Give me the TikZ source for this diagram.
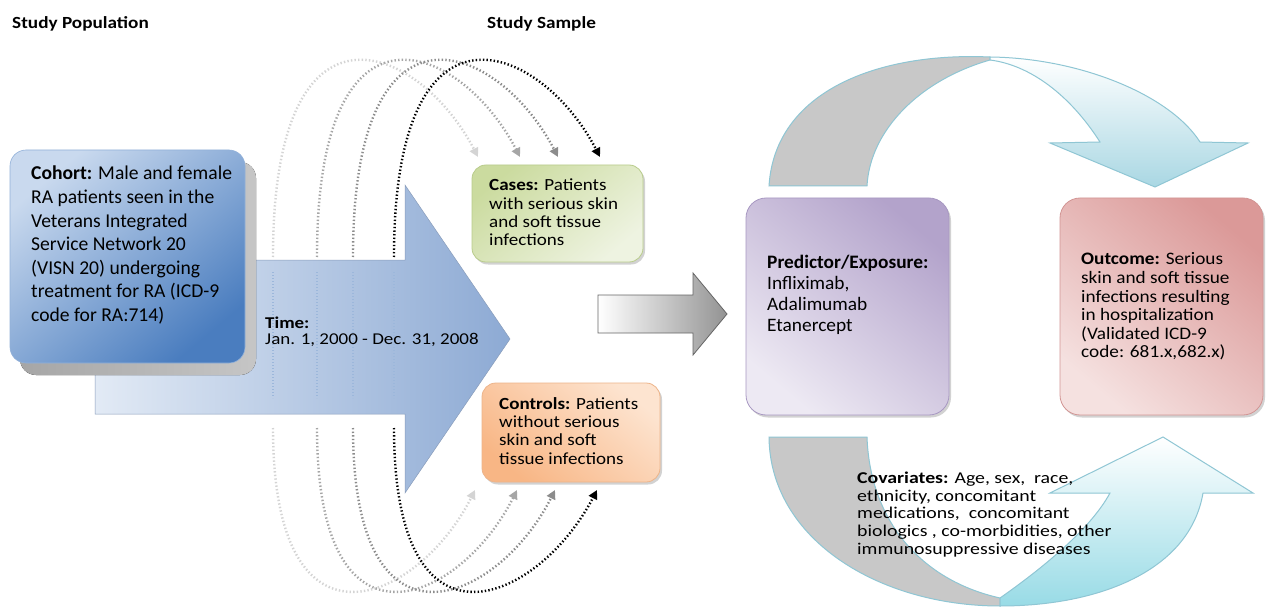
\documentclass[tikz,border=0pt]{standalone}
\usepackage{fontspec}
\setmainfont{Carlito}
\newfontfamily\fcoh{Carlito}
\newfontfamily\fcase[FakeStretch=1.12]{Carlito}
\newfontfamily\ftime[FakeStretch=1.15]{Carlito}
\newfontfamily\fpred[FakeStretch=1.02]{Carlito}
\newfontfamily\fout[FakeStretch=1.10]{Carlito}
\newfontfamily\fcov[FakeStretch=1.2]{Carlito}
\newfontfamily\fhead[FakeStretch=1.13]{Carlito}
\usetikzlibrary{arrows.meta,shadows}
\definecolor{arcA}{HTML}{D4D4D4}
\definecolor{arcB}{HTML}{A6A6A6}
\definecolor{arcC}{HTML}{8C8C8C}
\definecolor{arcD}{HTML}{000000}
\definecolor{bodyL}{HTML}{E2EAF5}
\definecolor{bodyR}{HTML}{8DAAD4}
\definecolor{innerdot}{HTML}{9CB7DB}
\definecolor{cohL}{HTML}{C9D9EE}
\definecolor{cohD}{HTML}{4A7DBF}
\definecolor{casesD}{HTML}{CBDB9F}
\definecolor{casesL}{HTML}{EEF3E1}
\definecolor{casesE}{HTML}{B9CC8C}
\definecolor{ctrlL}{HTML}{FDE4D0}
\definecolor{ctrlD}{HTML}{F8B685}
\definecolor{ctrlE}{HTML}{EDB48A}
\definecolor{predL}{HTML}{EDE9F3}
\definecolor{predD}{HTML}{B3A3CB}
\definecolor{predE}{HTML}{A898C2}
\definecolor{outL}{HTML}{F5E1E0}
\definecolor{outD}{HTML}{DB9998}
\definecolor{outE}{HTML}{D29594}
\definecolor{ribbon}{HTML}{8FC6D4}
\definecolor{ribbonfill}{HTML}{A9D7E3}
\definecolor{ribbongray}{HTML}{C8C8C8}
\tikzset{
  dotarc/.style={line width=2.4pt, dash pattern=on 1.4pt off 2.2pt,
    -{Triangle[length=9pt,width=9pt]}},
  innerline/.style={innerdot, line width=1.4pt, dash pattern=on 1pt off 2pt},
  boxbase/.style={rounded corners=14pt, inner sep=0pt, line width=0.8pt,
    drop shadow={shadow xshift=2pt, shadow yshift=-2.5pt, opacity=0.35}},
  txt/.style={inner sep=0pt, anchor=north west, align=left},
  head/.style={inner sep=0pt, anchor=base west, font=\fhead\fontsize{17}{20}\selectfont\bfseries},
}
\begin{document}
\begin{tikzpicture}[x=1pt,y=-1pt]
\useasboundingbox (0,0) rectangle (1270,607);
\fill[white] (0,0) rectangle (1270,607);

% headings
\node[head] (hpop) at (12,28.5) {Study Population};
\node[head] (hsam) at (487,28.5) {Study Sample};

% dotted arcs
\foreach \i/\xs/\xe in {1/273/478,2/317/520,3/353/558,4/394/600}{
  \coordinate (ts\i) at (\xs,257);
  \coordinate (te\i) at (\xe,157);
  \coordinate (bs\i) at (\xs,428);
  \coordinate (be\i) at (\xe-3,490);
}
\draw[dotarc, arcA] (ts1) .. controls (273,-20) and (420,45) .. (te1);
\draw[dotarc, arcB] (ts2) .. controls (317,-20) and (462,45) .. (te2);
\draw[dotarc, arcC] (ts3) .. controls (353,-20) and (500,45) .. (te3);
\draw[dotarc, arcD] (ts4) .. controls (394,-20) and (542,45) .. (te4);
\draw[dotarc, arcA] (bs1) .. controls (273,670) and (420,600) .. (be1);
\draw[dotarc, arcB] (bs2) .. controls (317,670) and (462,600) .. (be2);
\draw[dotarc, arcC] (bs3) .. controls (353,670) and (500,600) .. (be3);
\draw[dotarc, arcD] (bs4) .. controls (394,670) and (540,600) .. (be4);

% big time arrow
\path[left color=bodyL, right color=bodyR, draw=bodyR!70!gray, line width=0.5pt]
  (95,260) -- (405,260) -- (405,185) -- (510,339) -- (405,493) -- (405,414) -- (95,414) -- cycle;
\foreach \x in {273,317,353,394}{
  \draw[innerline] (\x,272) -- (\x,398);
}

% cohort box with shadow
\fill[rounded corners=16pt, left color=gray!70, right color=gray!45]
  (20,162) rectangle (256,375);
\node[rounded corners=16pt, inner sep=0pt, minimum width=235pt, minimum height=213pt,
  top color=cohL, bottom color=cohD, shading angle=40, draw=cohD!60, line width=0.6pt]
  (cohort) at (127.5,256.5) {};
\node[txt, font=\fcoh\fontsize{19.6}{23.6}\selectfont] (cohorttext) at (31,166)
  {\textbf{Cohort:} Male and female\\RA patients seen in the\\Veterans Integrated\\Service Network 20\\(VISN 20) undergoing\\treatment for RA (ICD-9\\code for RA:714)};

\node[txt, font=\ftime\fontsize{16.5}{16.3}\selectfont] (time) at (265,316.7)
  {\textbf{Time:}\\Jan. 1, 2000 - Dec. 31, 2008};

% cases / controls
\node[boxbase, minimum width=171pt, minimum height=97pt, top color=casesD, bottom color=casesL,
  shading angle=40, draw=casesE] (cases) at (557.5,213.5) {};
\node[txt, font=\fcase\fontsize{17}{18.3}\selectfont] (casestext) at (489,179)
  {\textbf{Cases:} Patients\\with serious skin\\and soft tissue\\infections};
\node[boxbase, minimum width=178pt, minimum height=99pt, top color=ctrlL, bottom color=ctrlD,
  shading angle=-40, draw=ctrlE] (controls) at (571,432.5) {};
\node[txt, font=\fcase\fontsize{17}{18.3}\selectfont] (controlstext) at (499,397.2)
  {\textbf{Controls:} Patients\\without serious\\skin and soft\\tissue infections};

% gray connector arrow
\path[left color=white, right color=gray!85, draw=gray!80!black, line width=0.8pt]
  (598,295) -- (693,295) -- (693,273) -- (727,314) -- (693,355) -- (693,333) -- (598,333) -- cycle;

% top ribbon arrow
\path[fill=ribbongray, draw=ribbon, line width=1pt]
  (769,186) .. controls (775,90) and (880,52) .. (990,57)
  -- (990,60) .. controls (920,80) and (870,130) .. (867,186) -- cycle;
\path[top color=white, bottom color=ribbonfill, draw=ribbon, line width=1pt]
  (990,57) .. controls (1080,58) and (1170,95) .. (1200,142) -- (1248,143) -- (1155,187)
  -- (1050,143) -- (1100,142) .. controls (1070,95) and (1030,65) .. (990,60) -- cycle;

% bottom ribbon arrow
\path[fill=ribbongray, draw=ribbon, line width=1pt]
  (769,437) .. controls (770,540) and (880,606) .. (1000,606)
  -- (1000,598) .. controls (920,580) and (870,520) .. (867,437) -- cycle;
\path[top color=white, bottom color=ribbonfill!90!cyan, draw=ribbon, line width=1pt]
  (1000,598) .. controls (1040,570) and (1090,530) .. (1110,493) -- (1050,493) -- (1163,437)
  -- (1253,493) -- (1203,493) .. controls (1190,570) and (1100,606) .. (1000,606) -- cycle;

% predictor / outcome
\node[boxbase, rounded corners=20pt, minimum width=203pt, minimum height=217pt,
  top color=predD, bottom color=predL, shading angle=-40, draw=predE] (pred) at (847.5,306.5) {};
\node[txt, font=\fpred\fontsize{19}{21}\selectfont] (predtext) at (767,255)
  {\textbf{Predictor/Exposure:}\\Infliximab,\\Adalimumab\\Etanercept};
\node[boxbase, rounded corners=20pt, minimum width=203pt, minimum height=217pt,
  top color=outD, bottom color=outL, shading angle=-40, draw=outE] (outcome) at (1161.5,306.5) {};
\node[txt, font=\fout\fontsize{17.5}{18.6}\selectfont] (outtext) at (1081,252.7)
  {\textbf{Outcome:} Serious\\skin and soft tissue\\infections resulting\\in hospitalization\\(Validated ICD-9\\code: 681.x,682.x)};

% covariates
\node[txt, font=\fcov\fontsize{16.5}{17.6}\selectfont] (cov) at (857,472)
  {\textbf{Covariates:} Age, sex,\ \ race,\\ethnicity, concomitant\\medications,\ \ concomitant\\biologics , co-morbidities, other\\immunosuppressive diseases};
\end{tikzpicture}
\end{document}
